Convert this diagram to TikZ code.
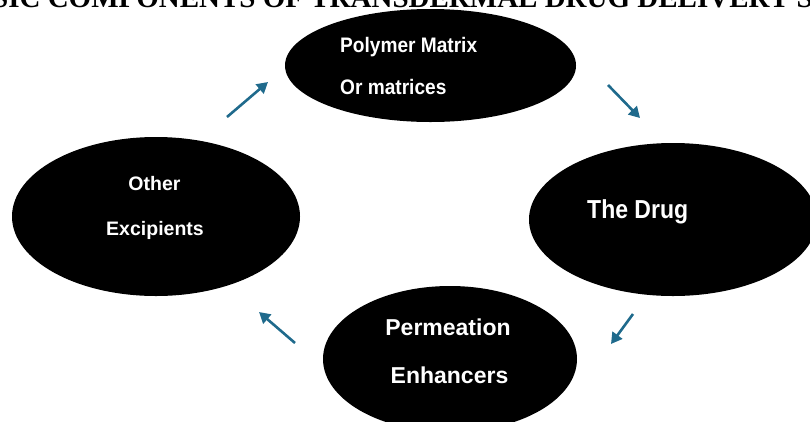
\documentclass[tikz,border=0pt]{standalone}
\usepackage{fontspec}
\setmainfont{Liberation Serif}
\newfontfamily\lsans{Liberation Sans}
\usetikzlibrary{shapes.geometric,arrows.meta}
\definecolor{arrowblue}{RGB}{31,106,140}
\tikzset{
  blob/.style={ellipse, fill=black, draw=none, inner sep=0pt},
  lbl/.style={text=white, inner sep=0pt, font=\lsans\bfseries},
  cyc/.style={draw=arrowblue, line width=2.6pt, -{Triangle[length=11pt,width=12pt]}},
}
\newcommand{\sq}[2]{\scalebox{#1}[1]{#2}}
\begin{document}
\begin{tikzpicture}[x=1pt,y=-1pt]
\useasboundingbox (0,0) rectangle (810,421);
% title (cut off at top)
\node[anchor=base west, inner sep=0pt, font=\fontsize{29}{31}\selectfont\bfseries] (title) at (-8,7)
  {\llap{BA}SIC COMPONENTS OF TRANSDERMAL DRUG DELIVERY S\rlap{YSTEM}};
% ellipses
\node[blob, minimum width=291pt, minimum height=113pt] (poly) at (430.5,65.5) {};
\node[blob, minimum width=288pt, minimum height=153pt] (drug) at (673,219.5) {};
\node[blob, minimum width=254pt, minimum height=146pt] (perm) at (450,359) {};
\node[blob, minimum width=288pt, minimum height=159pt] (exc) at (156,216.5) {};
% labels
\node[lbl, anchor=base west, font=\lsans\bfseries\fontsize{21}{24}\selectfont] (poly1) at (340,52) {\sq{0.91}{Polymer Matrix}};
\node[lbl, anchor=base west, font=\lsans\bfseries\fontsize{21}{24}\selectfont] (poly2) at (340,94.5) {\sq{0.91}{Or matrices}};
\node[lbl, anchor=base west, font=\lsans\bfseries\fontsize{26}{28}\selectfont] (drug1) at (587,218) {\sq{0.885}{The Drug}};
\node[lbl, anchor=base, font=\lsans\bfseries\fontsize{23}{26}\selectfont] (perm1) at (448,335) {Permeation};
\node[lbl, anchor=base, font=\lsans\bfseries\fontsize{23}{26}\selectfont] (perm2) at (449.5,383) {Enhancers};
\node[lbl, anchor=base, font=\lsans\bfseries\fontsize{19.5}{22}\selectfont] (exc1) at (154.5,190) {Other};
\node[lbl, anchor=base, font=\lsans\bfseries\fontsize{19.5}{22}\selectfont] (exc2) at (155,235) {Excipients};
% arrows
\coordinate (a1s) at (227,117); \coordinate (a1e) at (268,82);
\coordinate (a2s) at (608,85);  \coordinate (a2e) at (640,118);
\coordinate (a3s) at (633,314); \coordinate (a3e) at (611,344);
\coordinate (a4s) at (295,343); \coordinate (a4e) at (259,312);
\draw[cyc] (a1s) -- (a1e);
\draw[cyc] (a2s) -- (a2e);
\draw[cyc] (a3s) -- (a3e);
\draw[cyc] (a4s) -- (a4e);
\end{tikzpicture}
\end{document}
